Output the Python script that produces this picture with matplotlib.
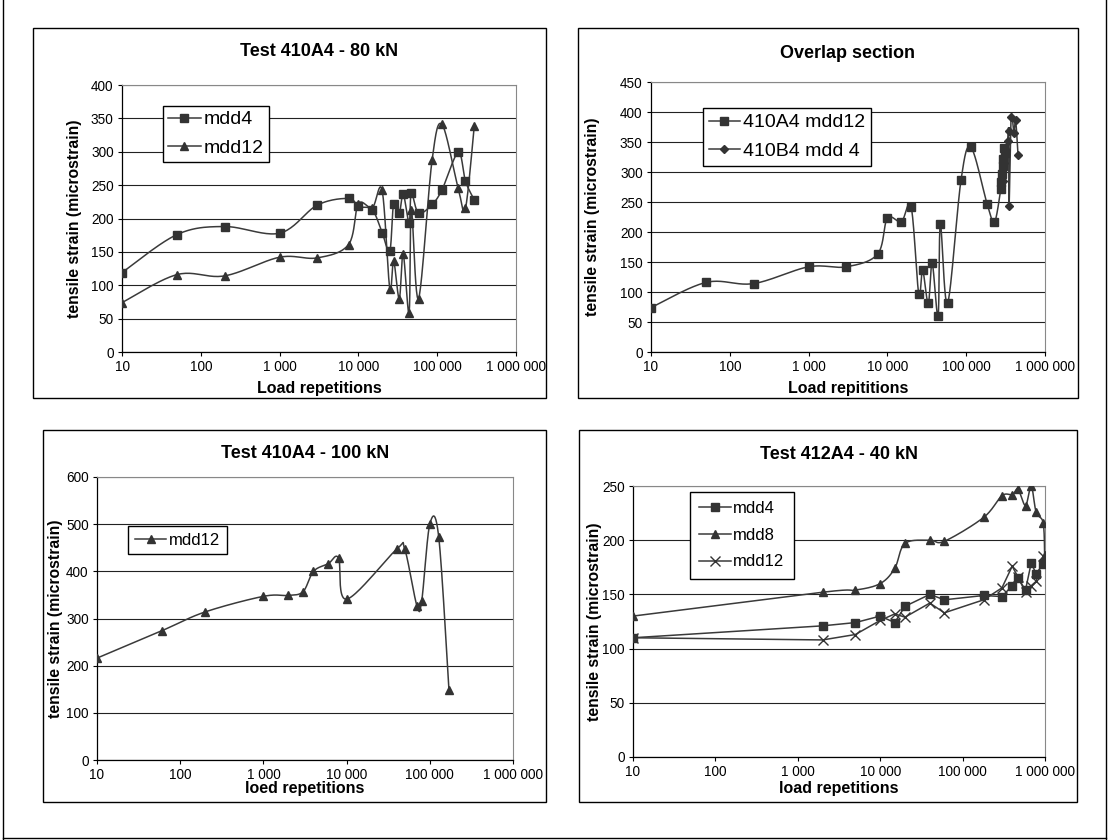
import numpy as np
import matplotlib.pyplot as plt
from matplotlib.ticker import FixedLocator, FuncFormatter, NullLocator
from matplotlib.patches import Rectangle

plt.rcParams['font.family'] = ['Liberation Sans', 'DejaVu Sans']

W, H = 1110, 840

# ---- data ----
# Test 410A4 - 80 kN
reps_80 = [10, 50, 200, 1000, 3000, 7500, 10000, 15000, 20000, 25000, 28000,
           33000, 37000, 44000, 47000, 58000, 86000, 115000, 185000, 228000, 295000]
mdd4_80 = [119, 176, 188, 178, 220, 230, 218, 213, 179, 151, 222,
           208, 237, 194, 238, 208, 221, 243, 299, 256, 228]
mdd12_80 = [74, 116, 114, 142, 141, 161, 222, 216, 242, 95, 136,
            80, 147, 59, 213, 80, 287, 341, 245, 215, 338]

# Overlap section
reps_ov_a = [10, 50, 200, 1000, 3000, 7500, 10000, 15000, 20000, 25000, 28000,
             33000, 37000, 44000, 47000, 58000, 86000, 115000, 185000, 228000,
             275000, 280000, 285000, 290000, 295000, 300000, 310000]
a4_mdd12 = [74, 116, 114, 142, 142, 163, 223, 217, 242, 96, 136,
            81, 148, 60, 213, 81, 287, 341, 246, 216,
            272, 284, 297, 310, 322, 340, 332]
reps_ov_b = [280000, 290000, 300000, 318000, 335000, 346000, 350000,
             372000, 403000, 424000, 455000]
b4_mdd4 = [272, 285, 315, 337, 352, 368, 243, 392, 365, 386, 328]

# Test 410A4 - 100 kN
reps_100 = [10, 60, 200, 1000, 2000, 3000, 4000, 6000, 8000, 10000,
            40000, 50000, 70000, 80000, 100000, 128000, 170000]
mdd12_100 = [216, 274, 314, 347, 349, 357, 400, 416, 428, 341,
             447, 447, 327, 338, 500, 473, 148]

# Test 412A4 - 40 kN
reps_40 = [10, 2000, 5000, 10000, 15000, 20000, 40000, 60000, 180000,
           300000, 400000, 470000, 580000, 680000, 780000, 950000]
mdd4_40 = [110, 121, 124, 130, 124, 139, 150, 145, 149,
           148, 158, 165, 154, 179, 169, 178]
reps_40_8 = reps_40 + [990000]
mdd8_40 = [130, 152, 154, 160, 174, 197, 200, 199, 221,
           241, 242, 247, 232, 250, 226, 216, 186]
mdd12_40 = [110, 108, 113, 126, 132, 129, 142, 133, 145,
            156, 176, 166, 152, 158, 162, 185]

decades = [10, 100, 1000, 10000, 100000, 1000000]

LINE = '#3a3a3a'
MARK = '#333333'


def smooth(x, y, w, h, ymax, n=24):
    # Excel-style smoothed line, built in screen space
    u = (np.log10(x) - 1) / 5 * w
    v = np.asarray(y, float) / ymax * h
    P = np.column_stack([u, v])
    m = len(P)
    t = np.linspace(0, 1, n)[:, None]
    segs = []
    for i in range(m - 1):
        p0 = P[max(i - 1, 0)]
        p1 = P[i]
        p2 = P[i + 1]
        p3 = P[min(i + 2, m - 1)]
        c1 = p1 + (p2 - p0) / 6
        c2 = p2 - (p3 - p1) / 6
        b = (1-t)**3*p1 + 3*(1-t)**2*t*c1 + 3*(1-t)*t**2*c2 + t**3*p2
        segs.append(b if i == 0 else b[1:])
    B = np.vstack(segs)
    return 10 ** (B[:, 0] / w * 5 + 1), B[:, 1] / h * ymax


def fmt(v, pos):
    return '{:,}'.format(int(round(v))).replace(',', ' ')


def panel(box, frame, ymax, ystep, title, title_y, xlabel, xlab_y, ylab_x):
    x0, y0, x1, y1 = box
    fig.patches.append(Rectangle((frame[0] / W, 1 - frame[3] / H),
                                 (frame[2] - frame[0]) / W, (frame[3] - frame[1]) / H,
                                 transform=fig.transFigure, fill=False,
                                 edgecolor='black', lw=1.0))
    ax = fig.add_axes([x0 / W, 1 - y1 / H, (x1 - x0) / W, (y1 - y0) / H])
    ax.set_xscale('log')
    ax.set_xlim(10, 1e6)
    ax.set_ylim(0, ymax)
    ax.xaxis.set_major_locator(FixedLocator(decades))
    ax.xaxis.set_minor_locator(NullLocator())
    ax.xaxis.set_major_formatter(FuncFormatter(fmt))
    ax.set_yticks(np.arange(0, ymax + 1, ystep))
    ax.yaxis.grid(True, color='#222222', lw=0.8)
    ax.set_axisbelow(True)
    for s in ['top', 'right']:
        ax.spines[s].set_color('#888888')
        ax.spines[s].set_linewidth(0.8)
    for s in ['left', 'bottom']:
        ax.spines[s].set_color('black')
        ax.spines[s].set_linewidth(0.9)
    ax.tick_params(direction='out', length=3, width=0.8, labelsize=9.8, pad=3)
    cx = (x0 + x1) / 2
    fig.text(cx / W, 1 - title_y / H, title, ha='center', va='center',
             weight='bold', size=13)
    fig.text(cx / W, 1 - xlab_y / H, xlabel, ha='center', va='center',
             weight='bold', size=11.5)
    fig.text(ylab_x / W, 1 - (y0 + y1) / 2 / H, 'tensile strain (microstrain)',
             ha='center', va='center', rotation=90, weight='bold', size=11.3)
    return ax, x1 - x0, y1 - y0


def series(ax, w, h, ymax, x, y, marker, ms, label, smooth_it=True):
    if smooth_it:
        sx, sy = smooth(x, y, w, h, ymax)
    else:
        sx, sy = x, y
    ax.plot(sx, sy, color=LINE, lw=1.1, zorder=3)
    ax.plot(x, y, ls='none', marker=marker, ms=ms, color=MARK, mec=MARK,
            mew=1.0, zorder=4)
    return ax.plot([], [], color=LINE, lw=1.1, marker=marker, ms=ms,
                   mfc=MARK, mec=MARK, label=label)[0]


def legend(ax, handles, x, y, size, bpad, lspace, hlen):
    ax.legend(handles=handles, loc='upper left',
              bbox_to_anchor=(x / W, 1 - y / H), bbox_transform=fig.transFigure,
              borderaxespad=0, fancybox=False, framealpha=1, edgecolor='black',
              prop={'size': size}, handlelength=hlen, handletextpad=0.15,
              borderpad=bpad, labelspacing=lspace)


fig = plt.figure(figsize=(W / 100, H / 100), dpi=100)

# outer scan border
fig.add_artist(plt.Line2D([3 / W, 3 / W], [0, 1], color='black', lw=1.0))
fig.add_artist(plt.Line2D([3 / W, 1106 / W], [2 / H, 2 / H], color='black', lw=1.0))
fig.add_artist(plt.Line2D([1106 / W, 1106 / W], [0, 1], color='black', lw=1.0))

# top left
ax, w, h = panel((122, 85, 516, 352), (33, 28, 546, 398), 400, 50,
                 'Test 410A4 - 80 kN', 52, 'Load repetitions', 388, 75)
h1 = series(ax, w, h, 400, reps_80, mdd4_80, 's', 5.5, 'mdd4')
h2 = series(ax, w, h, 400, reps_80, mdd12_80, '^', 6, 'mdd12')
legend(ax, [h1, h2], 163, 106, 14, 0.25, 0.55, 1.7)

# top right
ax, w, h = panel((651, 82, 1045, 352), (578, 28, 1078, 398), 450, 50,
                 'Overlap section', 53, 'Load repititions', 389, 592)
h1 = series(ax, w, h, 450, reps_ov_a, a4_mdd12, 's', 6, '410A4 mdd12')
h2 = series(ax, w, h, 450, reps_ov_b, b4_mdd4, 'D', 4.5, '410B4 mdd 4')
legend(ax, [h1, h2], 703, 108, 14, 0.3, 0.55, 1.6)

# bottom left
ax, w, h = panel((97, 477, 513, 760), (43, 430, 546, 802), 600, 100,
                 'Test 410A4 - 100 kN', 453, 'loed repetitions', 788, 56)
h1 = series(ax, w, h, 600, reps_100, mdd12_100, '^', 6, 'mdd12')
legend(ax, [h1], 128, 526, 12, 0.4, 0.5, 1.9)

# bottom right
ax, w, h = panel((633, 486, 1045, 757), (579, 430, 1077, 802), 250, 50,
                 'Test 412A4 - 40 kN', 455, 'load repetitions', 788, 595)
h1 = series(ax, w, h, 250, reps_40, mdd4_40, 's', 6, 'mdd4', False)
h2 = series(ax, w, h, 250, reps_40_8, mdd8_40, '^', 6, 'mdd8')
h3 = series(ax, w, h, 250, reps_40, mdd12_40, 'x', 7, 'mdd12', False)
legend(ax, [h1, h2, h3], 690, 492, 12, 0.55, 0.7, 1.9)

fig.savefig('out.png', dpi=100, facecolor='white')
